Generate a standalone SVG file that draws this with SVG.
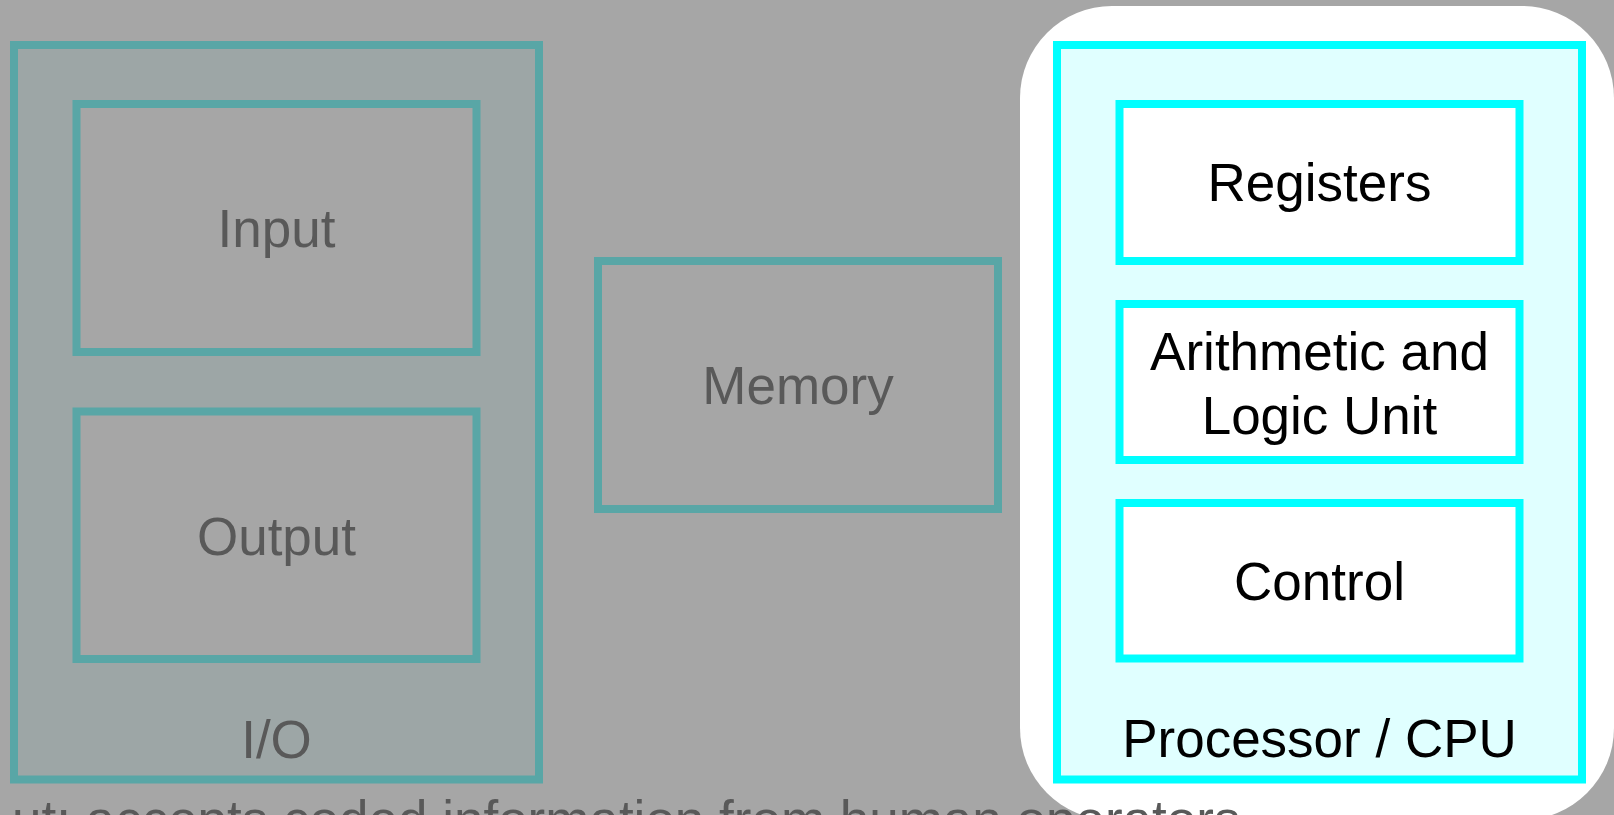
<svg xmlns="http://www.w3.org/2000/svg" width="1614" height="815" viewBox="0 0 1614 815">
<style>
.dim rect{stroke:#59a6a6;stroke-width:8}
.dim text{fill:#595959}
.hi rect{stroke:#00ffff;stroke-width:8}
.hi text{fill:#000000}
text{font-family:"Liberation Sans",Arial,sans-serif;font-size:53px;text-anchor:middle}
.note{text-anchor:start;fill:#595959}
</style>
<rect x="0" y="0" width="1614" height="815" fill="#a6a6a6"/>
<g class="dim">
  <g id="io">
    <rect x="14" y="45" width="525" height="734.5" fill="#9da6a6"/>
    <text x="276.5" y="758">I/O</text>
  </g>
  <g id="input">
    <rect x="76.5" y="104" width="400" height="248" fill="#a6a6a6"/>
    <text x="276.5" y="247">Input</text>
  </g>
  <g id="output">
    <rect x="76.5" y="411.5" width="400" height="247.5" fill="#a6a6a6"/>
    <text x="276.5" y="555">Output</text>
  </g>
  <g id="memory">
    <rect x="598" y="261" width="400" height="248" fill="#a6a6a6"/>
    <text x="798" y="404">Memory</text>
  </g>
</g>
<rect id="highlight" x="1020" y="6" width="594" height="814" rx="92" ry="92" fill="#ffffff"/>
<g class="hi">
  <g id="cpu">
    <rect x="1057" y="45" width="525" height="734.5" fill="#e0ffff"/>
    <text x="1319.5" y="757">Processor / CPU</text>
  </g>
  <g id="registers">
    <rect x="1119.5" y="104" width="400" height="157" fill="#ffffff"/>
    <text x="1319.5" y="201">Registers</text>
  </g>
  <g id="alu">
    <rect x="1119.5" y="304" width="400" height="156" fill="#ffffff"/>
    <text x="1319.5" y="370">Arithmetic and</text>
    <text x="1319.5" y="434">Logic Unit</text>
  </g>
  <g id="control">
    <rect x="1119.5" y="503" width="400" height="155.5" fill="#ffffff"/>
    <text x="1319.5" y="600">Control</text>
  </g>
</g>
<g id="connectors"></g>
<text class="note" x="12" y="838">ut: accepts coded information from human operators</text>
</svg>
